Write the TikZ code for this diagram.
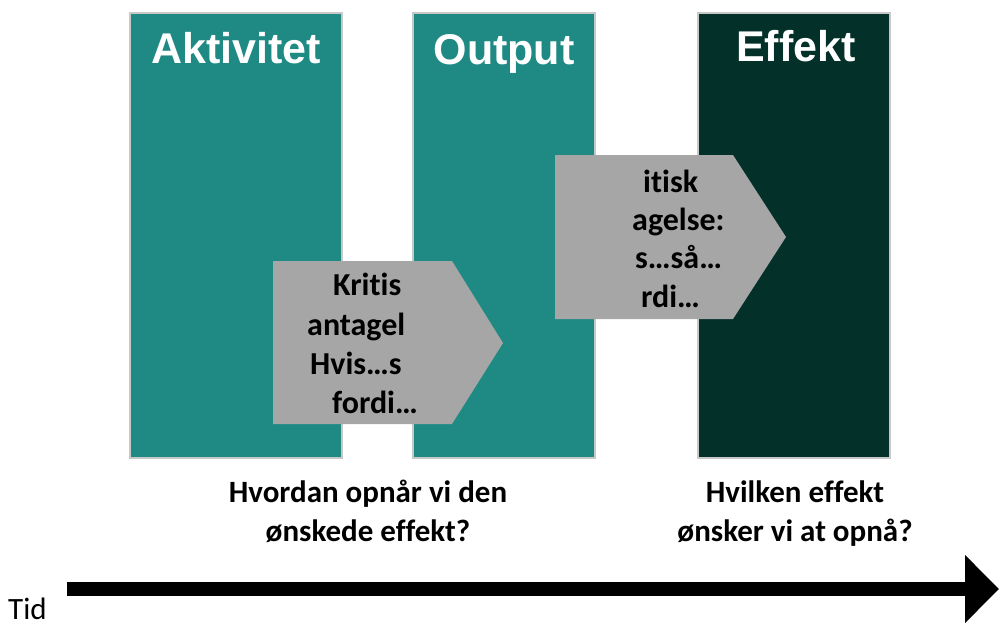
\documentclass[tikz,border=0pt]{standalone}
\usepackage{fontspec}
\setmainfont{Carlito}[Ligatures=NoCommon]
\newfontfamily\titlefont{Liberation Sans}
\usetikzlibrary{arrows.meta}
\definecolor{tealcol}{HTML}{1E8A83}
\definecolor{darkcol}{HTML}{04302A}
\definecolor{graycol}{HTML}{A6A6A6}
\definecolor{edgecol}{HTML}{C8C8C8}
\tikzset{
  column/.style={draw=edgecol, line width=1.5pt},
  title/.style={text=white, font=\titlefont\bfseries\fontsize{43}{48}\selectfont, anchor=base, inner sep=0pt},
  arrowtxt/.style={font=\bfseries\fontsize{32}{38}\selectfont, anchor=base west, inner sep=0pt},
  question/.style={font=\bfseries\fontsize{31}{39}\selectfont, align=center, anchor=base, inner sep=0pt},
  pentagon/.style={fill=graycol},
}
\begin{document}
\begin{tikzpicture}[x=1pt,y=-1pt]
\useasboundingbox (0,0) rectangle (999,626);
% columns
\fill[tealcol] (130,13) rectangle (342,458);
\draw[column] (130,13) rectangle (342,458);
\fill[tealcol] (413,13) rectangle (595,458);
\draw[column] (413,13) rectangle (595,458);
\fill[darkcol] (698,13) rectangle (890,458);
\draw[column] (698,13) rectangle (890,458);
\node[title] (t1) at (236,64) {Aktivitet};
\node[title] (t2) at (504,65) {Output};
\node[title] (t3) at (796,62) {Effekt};
% pentagon arrows
\fill[pentagon] (273,261) -- (452,261) -- (503,343) -- (452,424) -- (273,424) -- cycle;
\fill[pentagon] (555,155) -- (733,155) -- (786,237) -- (733,319) -- (555,319) -- cycle;
\node[arrowtxt] (a1) at (333,295) {Kritis};
\node[arrowtxt] (a2) at (307,335) {antagel};
\node[arrowtxt] (a3) at (310,374) {Hvis…s};
\node[arrowtxt] (a4) at (332,413) {fordi…};
\node[arrowtxt] (b1) at (643,192) {itisk};
\node[arrowtxt] (b2) at (632,230) {agelse:};
\node[arrowtxt] (b3) at (635,268) {s…så…};
\node[arrowtxt] (b4) at (641,307) {rdi…};
% questions
\node[question] (q1) at (368,541) {Hvordan opnår vi den\\ønskede effekt?};
\node[question] (q2) at (795,541) {Hvilken effekt\\ønsker vi at opnå?};
% timeline
\coordinate (ts) at (67,589);
\coordinate (te) at (999,589);
\draw[line width=14pt, -{Triangle[length=34pt,width=66pt]}] (ts) -- (te);
\node[font=\fontsize{31}{36}\selectfont, anchor=base west, inner sep=0pt] (tid) at (8,619) {Tid};
\end{tikzpicture}
\end{document}
